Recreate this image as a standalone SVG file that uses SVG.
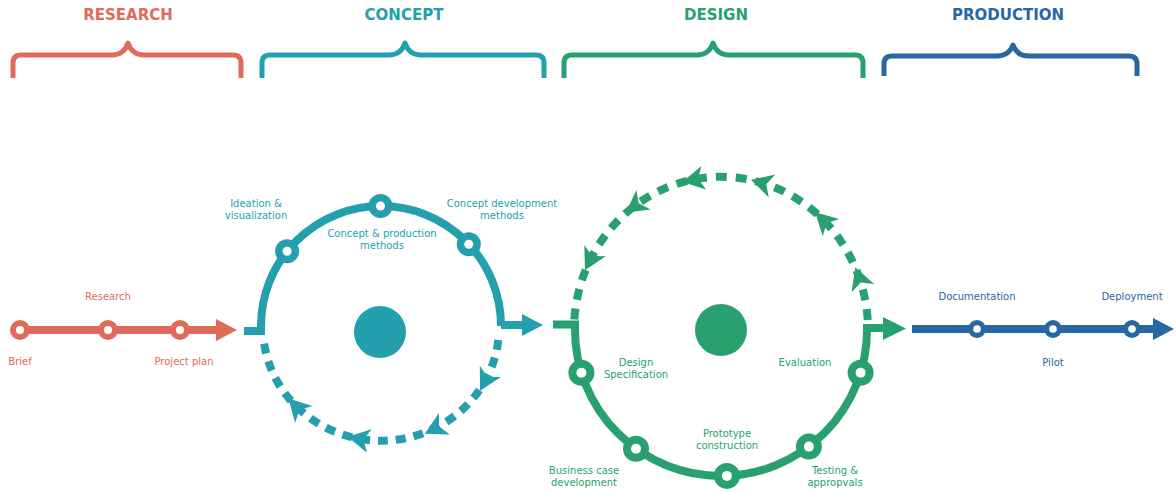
<svg xmlns="http://www.w3.org/2000/svg" width="1176" height="492" viewBox="0 0 1176 492">
<defs>
<style>
.hdr{font-family:"DejaVu Sans","Liberation Sans",sans-serif;font-size:15px;font-weight:bold;text-anchor:middle}
.lbl{font-family:"DejaVu Sans","Liberation Sans",sans-serif;font-size:10px;text-anchor:middle}
.br{fill:none;stroke-width:5;stroke-linejoin:round}
.ln{fill:none;stroke-width:8}
.dash{fill:none;stroke-width:8}
.hole{fill:#fff;stroke:none}
</style>
<path id="ah" d="M 11 0 L -11 -12 L -5 0 L -11 12 Z"/>
</defs>

<!-- Phase headers with braces -->
<g id="research-header">
<text class="hdr" x="128" y="20" fill="#E06B5A">RESEARCH</text>
<path class="br" stroke="#E06B5A" d="M 13 78 V 63 Q 13 55 21 55 H 112 Q 124 55 128 43 Q 132 55 144 55 H 233 Q 241 55 241 63 V 78"/>
</g>
<g id="concept-header">
<text class="hdr" x="404" y="20" fill="#239FAD">CONCEPT</text>
<path class="br" stroke="#239FAD" d="M 262 78 V 63 Q 262 55 270 55 H 389 Q 401 55 405 43 Q 409 55 421 55 H 536 Q 544 55 544 63 V 78"/>
</g>
<g id="design-header">
<text class="hdr" x="716" y="20" fill="#28A070">DESIGN</text>
<path class="br" stroke="#28A070" d="M 564 78 V 63 Q 564 55 572 55 H 697 Q 709 55 713 43 Q 717 55 729 55 H 855 Q 863 55 863 63 V 78"/>
</g>
<g id="production-header">
<text class="hdr" x="1008" y="20" fill="#2667A4">PRODUCTION</text>
<path class="br" stroke="#2667A4" d="M 884 76 V 64 Q 884 56 892 56 H 997 Q 1009 56 1013 45 Q 1017 56 1029 56 H 1129 Q 1137 56 1137 64 V 76"/>
</g>

<!-- Connectors -->
<g id="connectors">
<path class="ln" stroke="#E06B5A" d="M 20 330 H 220"/>
<polygon fill="#E06B5A" points="216,319 237,330 216,341"/>
<path class="ln" stroke="#239FAD" d="M 244 331 H 261 V 326 A 120 120 0 0 1 501 326 V 325 H 525"/>
<polygon fill="#239FAD" points="522,314 543,325 522,336"/>
<path class="dash" stroke="#239FAD" stroke-dasharray="10 8" d="M 498.3 340 A 118 113 0 0 1 263.7 340"/>
<use href="#ah" fill="#239FAD" transform="translate(485.2 381.1) rotate(118)"/>
<use href="#ah" fill="#239FAD" transform="translate(434.6 428.7) rotate(153)"/>
<use href="#ah" fill="#239FAD" transform="translate(358.5 438.9) rotate(191)"/>
<use href="#ah" fill="#239FAD" transform="translate(296.1 406.5) rotate(226)"/>
<path class="ln" stroke="#28A070" d="M 553 324.5 H 575 V 330 A 146 146 0 0 0 867 330 V 328 H 886"/>
<polygon fill="#28A070" points="883,317 906,328.5 883,340"/>
<path class="dash" stroke="#28A070" stroke-dasharray="11 9" d="M 867.7 320 A 147 153 0 0 0 574.3 320"/>
<use href="#ah" fill="#28A070" transform="translate(859.1 277.7) rotate(-110)"/>
<use href="#ah" fill="#28A070" transform="translate(823.1 219.9) rotate(-136)"/>
<use href="#ah" fill="#28A070" transform="translate(761.5 182.9) rotate(-164)"/>
<use href="#ah" fill="#28A070" transform="translate(693 179.8) rotate(169)"/>
<use href="#ah" fill="#28A070" transform="translate(634.6 206.2) rotate(144)"/>
<use href="#ah" fill="#28A070" transform="translate(590 260.5) rotate(117)"/>
<path class="ln" stroke="#2667A4" d="M 912 329 H 1156"/>
<polygon fill="#2667A4" points="1153,318 1174,329 1153,340"/>
</g>

<!-- Research nodes -->
<g id="brief">
<circle cx="20" cy="330" r="10" fill="#E06B5A"/><circle cx="20" cy="330" r="4" class="hole"/>
<text class="lbl" x="20" y="365" fill="#E06B5A">Brief</text>
</g>
<g id="research">
<circle cx="108" cy="330" r="10" fill="#E06B5A"/><circle cx="108" cy="330" r="4" class="hole"/>
<text class="lbl" x="108" y="300" fill="#E06B5A">Research</text>
</g>
<g id="project-plan">
<circle cx="180" cy="330" r="10" fill="#E06B5A"/><circle cx="180" cy="330" r="4" class="hole"/>
<text class="lbl" x="184" y="365" fill="#E06B5A">Project plan</text>
</g>

<!-- Concept nodes -->
<g id="concept-hub"><circle cx="380" cy="332" r="26" fill="#239FAD"/></g>
<g id="ideation">
<circle cx="287.1" cy="251.3" r="12" fill="#239FAD"/><circle cx="287.1" cy="251.3" r="4.5" class="hole"/>
<text class="lbl" x="256" y="207" fill="#239FAD">Ideation &amp;</text>
<text class="lbl" x="256" y="219" fill="#239FAD">visualization</text>
</g>
<g id="concept-production">
<circle cx="380.5" cy="206" r="12" fill="#239FAD"/><circle cx="380.5" cy="206" r="4.5" class="hole"/>
<text class="lbl" x="382" y="237" fill="#239FAD">Concept &amp; production</text>
<text class="lbl" x="382" y="249" fill="#239FAD">methods</text>
</g>
<g id="concept-development">
<circle cx="468.8" cy="244.2" r="12" fill="#239FAD"/><circle cx="468.8" cy="244.2" r="4.5" class="hole"/>
<text class="lbl" x="502" y="207" fill="#239FAD">Concept development</text>
<text class="lbl" x="502" y="219" fill="#239FAD">methods</text>
</g>

<!-- Design nodes -->
<g id="design-hub"><circle cx="721" cy="330" r="26" fill="#28A070"/></g>
<g id="design-specification">
<circle cx="581.4" cy="372.7" r="13" fill="#28A070"/><circle cx="581.4" cy="372.7" r="5" class="hole"/>
<text class="lbl" x="636" y="366" fill="#28A070">Design</text>
<text class="lbl" x="636" y="378" fill="#28A070">Specification</text>
</g>
<g id="business-case">
<circle cx="636" cy="448.7" r="13" fill="#28A070"/><circle cx="636" cy="448.7" r="5" class="hole"/>
<text class="lbl" x="584" y="474" fill="#28A070">Business case</text>
<text class="lbl" x="584" y="486" fill="#28A070">development</text>
</g>
<g id="prototype">
<circle cx="726.9" cy="475.9" r="13" fill="#28A070"/><circle cx="726.9" cy="475.9" r="5" class="hole"/>
<text class="lbl" x="727" y="437" fill="#28A070">Prototype</text>
<text class="lbl" x="727" y="449" fill="#28A070">construction</text>
</g>
<g id="testing">
<circle cx="808.9" cy="446.6" r="13" fill="#28A070"/><circle cx="808.9" cy="446.6" r="5" class="hole"/>
<text class="lbl" x="835" y="474" fill="#28A070">Testing &amp;</text>
<text class="lbl" x="835" y="486" fill="#28A070">appropvals</text>
</g>
<g id="evaluation">
<circle cx="860.6" cy="372.7" r="13" fill="#28A070"/><circle cx="860.6" cy="372.7" r="5" class="hole"/>
<text class="lbl" x="805" y="366" fill="#28A070">Evaluation</text>
</g>

<!-- Production nodes -->
<g id="documentation">
<circle cx="977" cy="329" r="9" fill="#2667A4"/><circle cx="977" cy="329" r="3.8" class="hole"/>
<text class="lbl" x="977" y="300" fill="#2667A4">Documentation</text>
</g>
<g id="pilot">
<circle cx="1053" cy="329" r="9" fill="#2667A4"/><circle cx="1053" cy="329" r="3.8" class="hole"/>
<text class="lbl" x="1053" y="366" fill="#2667A4">Pilot</text>
</g>
<g id="deployment">
<circle cx="1132" cy="329" r="9" fill="#2667A4"/><circle cx="1132" cy="329" r="3.8" class="hole"/>
<text class="lbl" x="1132" y="300" fill="#2667A4">Deployment</text>
</g>
</svg>
